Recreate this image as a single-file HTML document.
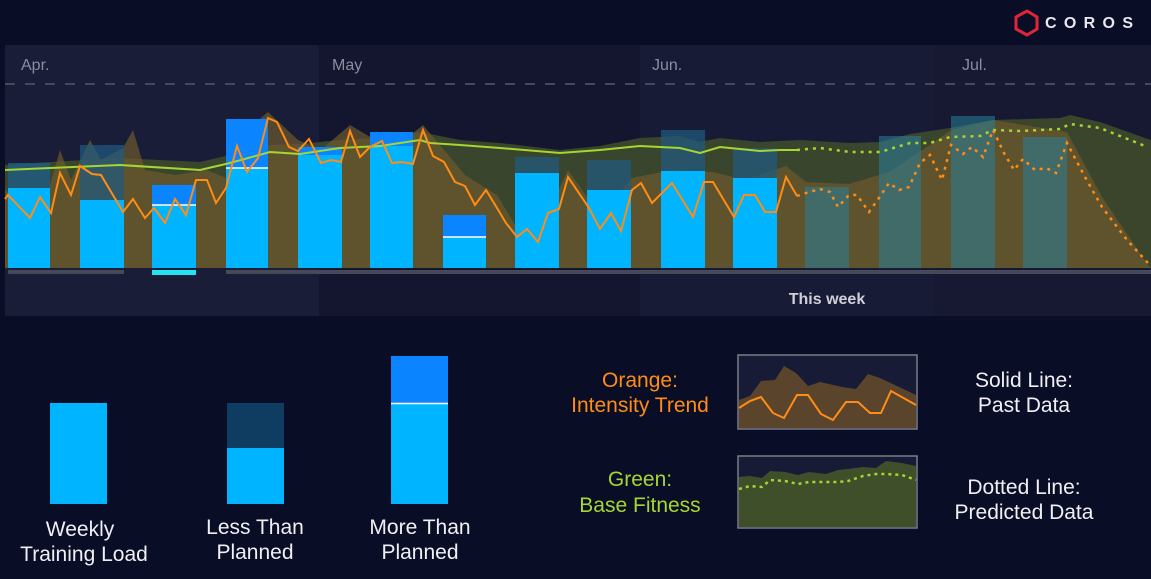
<!DOCTYPE html>
<html><head><meta charset="utf-8"><style>
html,body{margin:0;padding:0;background:#0a0d26;width:1151px;height:579px;overflow:hidden}
svg{display:block}
text{font-family:"Liberation Sans",sans-serif}
</style></head><body>
<svg width="1151" height="579" viewBox="0 0 1151 579" xmlns="http://www.w3.org/2000/svg">
<rect width="1151" height="579" fill="#0a0d26"/>
<g transform="translate(1027,21)">
<polygon points="0,-10 10,-4 10,8 0,14 -11,8 -11,-4" fill="none" stroke="#e0253a" stroke-width="3"/>
</g>
<text x="1045" y="28" fill="#e8e8ee" font-size="16" font-weight="bold" letter-spacing="4" textLength="92">COROS</text>
<rect x="5" y="45" width="1146" height="271" fill="#171a33"/>
<rect x="5" y="45" width="314" height="271" fill="#1a1d37"/>
<rect x="319" y="45" width="321" height="271" fill="#13162e"/>
<rect x="640" y="45" width="294" height="271" fill="#181b35"/>
<rect x="934" y="45" width="217" height="271" fill="#161931"/>
<text x="21" y="70" fill="#8b8d9f" font-size="16">Apr.</text>
<text x="332" y="70" fill="#8b8d9f" font-size="16">May</text>
<text x="652" y="70" fill="#8b8d9f" font-size="16">Jun.</text>
<text x="962" y="70" fill="#8b8d9f" font-size="16">Jul.</text>
<line x1="5" y1="84" x2="1151" y2="84" stroke="#54586b" stroke-width="1.5" stroke-dasharray="10,10"/>
<polygon fill="#3e4a2c" fill-opacity="0.9" points="5,268 5,165 50,162 120,158 200,162 230,155 270,145 300,144 340,140 380,138 420,132 460,140 500,143 560,150 600,146 640,138 680,136 700,142 720,138 760,142 800,140 850,143 880,142 910,134 950,128 993,120 1060,118 1070,115 1100,122 1145,138 1151,140 1151,268"/>
<polygon fill="#6e5a2e" fill-opacity="0.7" points="5,268 5,190 30,205 50,185 60,150 71,180 90,140 101,160 123,148 133,130 145,170 175,175 207,170 226,178 237,138 268,112 298,140 321,150 350,125 392,150 423,125 444,150 465,175 497,195 517,228 538,232 568,170 600,215 632,178 672,170 713,172 744,180 786,166 806,182 849,184 889,172 930,145 951,130 993,120 1067,132 1102,197 1148,265 1151,268"/>
<g>
<rect x="8" y="163" width="42" height="25" fill="#1f5b82" fill-opacity="0.8"/><rect x="8" y="188" width="42" height="80" fill="#00b4ff"/>
<rect x="80" y="145" width="44" height="55" fill="#1f5b82" fill-opacity="0.7"/><rect x="80" y="200" width="44" height="68" fill="#00b4ff"/>
<rect x="152" y="185" width="44" height="20" fill="#0a84ff"/><rect x="152" y="205" width="44" height="63" fill="#00b4ff"/><line x1="152" y1="205" x2="196" y2="205" stroke="#fff" stroke-width="1.5"/>
<rect x="226" y="119" width="42" height="49" fill="#0a84ff"/><rect x="226" y="168" width="42" height="100" fill="#00b4ff"/><line x1="226" y1="168" x2="268" y2="168" stroke="#fff" stroke-width="1.5"/>
<rect x="298" y="147" width="44" height="8" fill="#0a84ff"/><rect x="298" y="155" width="44" height="113" fill="#00b4ff"/>
<rect x="370" y="132" width="43" height="14" fill="#0a84ff"/><rect x="370" y="146" width="43" height="122" fill="#00b4ff"/>
<rect x="443" y="215" width="43" height="22" fill="#0a84ff"/><rect x="443" y="237" width="43" height="31" fill="#00b4ff"/><line x1="443" y1="237" x2="486" y2="237" stroke="#fff" stroke-width="1.5"/>
<rect x="515" y="157" width="44" height="16" fill="#1f5b82" fill-opacity="0.7"/><rect x="515" y="173" width="44" height="95" fill="#00b4ff"/>
<rect x="587" y="160" width="44" height="30" fill="#1f5b82" fill-opacity="0.7"/><rect x="587" y="190" width="44" height="78" fill="#00b4ff"/>
<rect x="661" y="130" width="44" height="41" fill="#1f5b82" fill-opacity="0.7"/><rect x="661" y="171" width="44" height="97" fill="#00b4ff"/>
<rect x="733" y="148" width="44" height="30" fill="#1f5b82" fill-opacity="0.7"/><rect x="733" y="178" width="44" height="90" fill="#00b4ff"/>
</g>
<g fill="#2a7f9a" fill-opacity="0.55">
<rect x="805" y="187" width="44" height="81"/>
<rect x="879" y="136" width="42" height="132"/>
<rect x="951" y="116" width="44" height="152"/>
<rect x="1023" y="137" width="44" height="131"/>
</g>
<rect x="8" y="270" width="116" height="4" fill="#46495a"/>
<rect x="152" y="270" width="44" height="5" fill="#22e3ef"/>
<rect x="226" y="270" width="925" height="4" fill="#46495a"/>
<polyline fill="none" stroke="#a5d631" stroke-width="2" points="5,170 50,168 120,165 200,170 230,163 270,152 300,154 340,148 380,146 420,140 430,143 460,145 500,148 560,153 600,150 640,146 680,148 700,153 720,147 760,151 780,150 797,150"/>
<polyline fill="none" stroke="#a5d631" stroke-width="2.5" stroke-dasharray="3,5" points="797,150 820,148 850,152 880,152 910,143 930,143 950,137 980,136 993,130 1020,131 1060,129 1070,124 1100,128 1145,146"/>
<polyline fill="none" stroke="#ff8c14" stroke-width="2" points="5,199 8,195 30,218 40,197 51,213 60,173 71,195 80,166 92,174 101,175 123,212 133,199 145,218 154,208 165,223 175,199 186,215 196,180 207,180 216,203 226,188 237,146 247,172 258,158 268,118 277,122 289,147 298,151 309,139 321,163 331,160 341,162 350,131 360,157 370,147 382,141 392,163 402,162 413,164 423,130 433,156 444,162 455,182 465,186 475,205 486,190 497,208 506,223 517,237 527,229 538,242 548,213 559,209 568,177 589,208 600,229 611,213 621,231 632,190 641,183 652,203 672,183 693,217 704,182 713,182 734,217 744,195 755,195 765,212 776,212 786,177 797,196"/>
<polyline fill="none" stroke="#ff8c14" stroke-width="2.5" stroke-dasharray="3,5" points="797,196 806,193 820,189 830,192 838,207 849,195 857,195 869,212 879,198 889,183 899,190 909,187 920,163 930,155 942,180 951,145 963,154 972,147 983,157 993,130 1004,153 1014,170 1023,159 1035,170 1046,168 1056,173 1067,143 1085,177 1102,207 1127,240 1148,263"/>
<text x="827" y="304" fill="#d0d1d8" font-size="16" font-weight="bold" text-anchor="middle">This week</text>
<rect x="50" y="403" width="57" height="101" fill="#00b4ff"/>
<rect x="227" y="403" width="57" height="45" fill="#0f3d62"/><rect x="227" y="448" width="57" height="56" fill="#00b4ff"/>
<rect x="391" y="356" width="57" height="47" fill="#0a84ff"/><rect x="391" y="404" width="57" height="100" fill="#00b4ff"/><line x1="391" y1="403.5" x2="448" y2="403.5" stroke="#fff" stroke-width="1.5"/>
<g fill="#f0f0f4" font-size="21" text-anchor="middle">
<text x="80" y="536">Weekly</text><text x="84" y="561">Training Load</text>
<text x="255" y="534">Less Than</text><text x="255" y="559">Planned</text>
<text x="420" y="534">More Than</text><text x="420" y="559">Planned</text>
<text x="1024" y="387">Solid Line:</text><text x="1024" y="412">Past Data</text>
<text x="1024" y="494">Dotted Line:</text><text x="1024" y="519">Predicted Data</text>
</g>
<g font-size="21" text-anchor="middle">
<text x="640" y="387" fill="#ff8c14">Orange:</text><text x="640" y="412" fill="#ff8c14">Intensity Trend</text>
<text x="640" y="486" fill="#a5d631">Green:</text><text x="640" y="512" fill="#a5d631">Base Fitness</text>
</g>
<rect x="738" y="355" width="179" height="74" fill="#181b35" stroke="#7a7c88" stroke-width="1.5"/>
<polygon fill="#5a442c" points="739,400 750,396 761,381 775,380 784,366 796,373 808,386 820,382 842,387 856,389 868,374 880,378 916,395 916,428 739,428"/>
<polyline fill="none" stroke="#ff8c14" stroke-width="2" points="739,408 750,401 761,397 773,413 784,418 797,395 808,395 821,414 833,420 846,402 858,402 870,413 881,413 891,391 916,405"/>
<rect x="738" y="456" width="179" height="72" fill="#181b35" stroke="#7a7c88" stroke-width="1.5"/>
<polygon fill="#3f4f2a" points="739,477 750,476 762,478 770,471 785,472 798,475 809,472 826,474 838,470 848,469 863,467 876,468 886,461 902,463 916,466 916,527 739,527"/>
<polyline fill="none" stroke="#a5d631" stroke-width="2.5" stroke-dasharray="3,4" points="739,489 750,486 762,487 770,480 785,481 798,484 809,482 826,482 838,482 848,481 863,476 876,474 886,474 902,475 916,480"/>
</svg>
</body></html>
